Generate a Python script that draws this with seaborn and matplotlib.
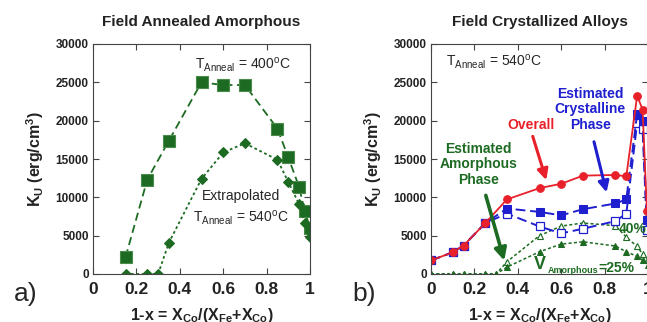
import numpy as np
import pandas as pd
import matplotlib
matplotlib.use("Agg")
import matplotlib.pyplot as plt
import seaborn as sns

# ---- panel a) field annealed amorphous ----
x_400 = [0.15, 0.25, 0.35, 0.5, 0.6, 0.7, 0.85, 0.9, 0.95, 0.975, 1.0]
k_400 = [2200, 12300, 17400, 25000, 24650, 24650, 18950, 15200, 11350, 8250, 6050]
x_540 = [0.15, 0.25, 0.3, 0.35, 0.5, 0.6, 0.7, 0.85, 0.9, 0.95, 0.975, 1.0]
k_540 = [0, 0, 0, 4100, 12400, 15850, 17050, 14900, 12000, 9100, 6600, 4800]

# ---- panel b) field crystallized alloys ----
x_all = [0, 0.1, 0.15, 0.25, 0.35, 0.5, 0.6, 0.7, 0.85, 0.9, 0.95, 0.975, 0.995]
k_overall = [1770, 2830, 3700, 6640, 9730, 11200, 11770, 12830, 12920, 12740, 23250, 21450, 8200]
k_cryst_25 = [1770, 2830, 3700, 6640, 8540, 8100, 7650, 8450, 9200, 9730, 20900, 19900, 7100]
k_cryst_40 = [1770, 2830, 3700, 6640, 7880, 6200, 5300, 5900, 6900, 7880, 19700, 18900, 5800]
x_am = [0, 0.1, 0.15, 0.25, 0.3, 0.35, 0.5, 0.6, 0.7, 0.85, 0.9, 0.95, 0.975, 1.0]
k_am_40 = [0, 0, 0, 0, 0, 1600, 5000, 6250, 6650, 6300, 4800, 3600, 2600, 1900]
k_am_25 = [0, 0, 0, 0, 0, 900, 2900, 3900, 4200, 3650, 2900, 2300, 1800, 1200]

xticks = [0, 0.2, 0.4, 0.6, 0.8, 1]
xtick_labels = ["0", "0.2", "0.4", "0.6", "0.8", "1"]
yticks = [0, 5000, 10000, 15000, 20000, 25000, 30000]

sns.set_style("ticks", {"xtick.direction": "in", "ytick.direction": "in"})
plt.rcParams["font.family"] = ["Liberation Sans", "DejaVu Sans"]
plt.rcParams["mathtext.fontset"] = "custom"
plt.rcParams["mathtext.rm"] = "Liberation Sans"
plt.rcParams["mathtext.bf"] = "Liberation Sans:bold"

green = "#1d6b22"
red = "#e8202a"
blue = "#1f1fd0"

fig = plt.figure(figsize=(6.47, 3.22), dpi=100)
ax1 = fig.add_axes([93 / 647, 48 / 322, 217 / 647, 230 / 322])
ax2 = fig.add_axes([431 / 647, 48 / 322, 217 / 647, 230 / 322])

# panel a
sns.lineplot(x=x_400, y=k_400, ax=ax1, color=green, lw=1.3, linestyle=(0, (4.5, 2.5)),
             marker="s", markersize=8, markerfacecolor=green, markeredgecolor="#4a8a4a",
             markeredgewidth=0.8, estimator=None, sort=False)
sns.lineplot(x=x_540, y=k_540, ax=ax1, color=green, lw=1.3, linestyle=(0, (1.5, 1.5)),
             marker="D", markersize=5.5, markerfacecolor=green, markeredgecolor=green,
             estimator=None, sort=False)

# panel b
sns.lineplot(x=x_am, y=k_am_40, ax=ax2, color=green, lw=1.1, linestyle=(0, (2, 1.5)),
             marker="^", markersize=5, markerfacecolor="white", markeredgecolor=green,
             markeredgewidth=0.8, estimator=None, sort=False)
sns.lineplot(x=x_am, y=k_am_25, ax=ax2, color=green, lw=1.1, linestyle=(0, (2, 1.5)),
             marker="^", markersize=5, markerfacecolor=green, markeredgecolor=green,
             estimator=None, sort=False)
sns.lineplot(x=x_all, y=k_cryst_40, ax=ax2, color=blue, lw=1.4, linestyle=(0, (5, 2.5)),
             marker="s", markersize=6, markerfacecolor="white", markeredgecolor=blue,
             markeredgewidth=0.9, estimator=None, sort=False)
sns.lineplot(x=x_all, y=k_cryst_25, ax=ax2, color=blue, lw=1.4, linestyle=(0, (5, 2.5)),
             marker="s", markersize=5.5, markerfacecolor=blue, markeredgecolor=blue,
             estimator=None, sort=False)
sns.lineplot(x=x_all, y=k_overall, ax=ax2, color=red, lw=1.3, linestyle="-",
             marker="o", markersize=5.5, markerfacecolor=red, markeredgecolor=red,
             estimator=None, sort=False)

for ax, title, tag in [(ax1, "Field Annealed Amorphous", "a)"),
                       (ax2, "Field Crystallized Alloys", "b)")]:
    ax.set_xlim(0, 1)
    ax.set_ylim(0, 30000)
    ax.set_xticks(xticks)
    ax.set_xticklabels(xtick_labels, fontsize=12.5, fontweight="heavy", color="#222222")
    ax.set_yticks(yticks)
    ax.set_yticklabels([str(v) for v in yticks], fontsize=8.5, fontweight="heavy", color="#222222")
    ax.tick_params(direction="in", top=True, right=True, length=4, width=0.8, pad=3,
                   color="#444444")
    ax.tick_params(axis="x", pad=6)
    for s in ax.spines.values():
        s.set_linewidth(0.8)
        s.set_color("#444444")
    ax.set_title(title, fontsize=11, fontweight="bold", pad=13, color="#222222")
    ax.set_ylabel(r"K$_\mathbf{U}$ (erg/cm$^\mathbf{3}$)", fontsize=11.5, fontweight="bold",
                  labelpad=7, color="#222222")
    ax.set_xlabel(r"1-x = X$_\mathbf{Co}$/(X$_\mathbf{Fe}$+X$_\mathbf{Co}$)",
                  fontsize=11.5, fontweight="bold", labelpad=6, color="#222222")
    ax.text(-0.31, -0.085, tag, transform=ax.transAxes, fontsize=19, ha="center", va="center")

# annotations panel a
ax1.text(0.69, 26700, r"T$_\mathrm{Anneal}$ = 400$^\mathrm{o}$C", ha="center", va="baseline", fontsize=10)
ax1.text(0.68, 9650, "Extrapolated", ha="center", va="baseline", fontsize=10)
ax1.text(0.68, 6700, r"T$_\mathrm{Anneal}$ = 540$^\mathrm{o}$C", ha="center", va="baseline", fontsize=10)

# annotations panel b
ax2.text(0.29, 27100, r"T$_\mathrm{Anneal}$ = 540$^\mathrm{o}$C", ha="center", va="baseline", fontsize=10)
ax2.text(0.46, 19470, "Overall", color=red, ha="center", va="center", fontsize=10, fontweight="bold")
ax2.text(0.734, 21460, "Estimated\nCrystalline\nPhase", color=blue, ha="center", va="center",
         fontsize=10, fontweight="bold", linespacing=1.15)
ax2.text(0.218, 14300, "Estimated\nAmorphous\nPhase", color=green, ha="center", va="center",
         fontsize=10, fontweight="bold", linespacing=1.15)
ax2.annotate("", xy=(0.535, 11900), xytext=(0.465, 18300),
             arrowprops=dict(arrowstyle="-|>", color=red, lw=2.2, mutation_scale=16))
ax2.annotate("", xy=(0.812, 10300), xytext=(0.748, 17600),
             arrowprops=dict(arrowstyle="-|>", color=blue, lw=2.2, mutation_scale=16))
ax2.annotate("", xy=(0.341, 1400), xytext=(0.249, 10600),
             arrowprops=dict(arrowstyle="-|>", color=green, lw=2.6, mutation_scale=18))
ax2.text(0.863, 5900, "40%", color=green, ha="left", va="center", fontsize=10, fontweight="bold")
ax2.text(0.503, 1250, "V", color=green, ha="center", va="center", fontsize=13, fontweight="bold")
ax2.text(0.657, 450, "Amorphous", color=green, ha="center", va="center", fontsize=6.5, fontweight="bold")
ax2.text(0.77, 800, "=25%", color=green, ha="left", va="center", fontsize=10, fontweight="bold")

fig.savefig("out.png", dpi=100)
